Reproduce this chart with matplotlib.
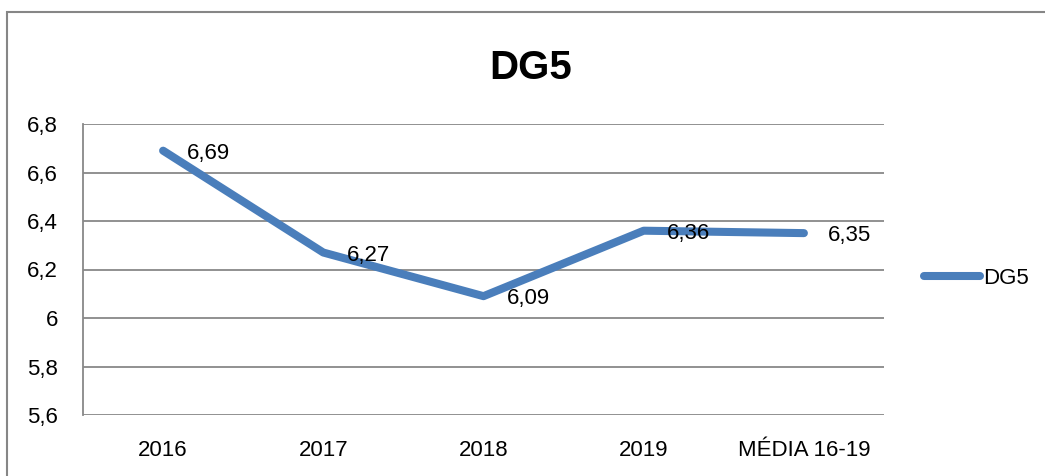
import matplotlib.pyplot as plt
from matplotlib.patches import Rectangle
from matplotlib.ticker import FuncFormatter

categories = ["2016", "2017", "2018", "2019", "MÉDIA 16-19"]
dg5 = [6.69, 6.27, 6.09, 6.36, 6.35]
yticks = [5.6, 5.8, 6.0, 6.2, 6.4, 6.6, 6.8]

plt.rcParams['font.family'] = ['Liberation Sans', 'DejaVu Sans']

fig = plt.figure(figsize=(10.45, 4.76), dpi=100)
ax = fig.add_axes([83 / 1045, 61 / 476, 801 / 1045, 291 / 476])

x = list(range(len(categories)))
ax.plot(x, dg5, color="#4a7ebb", lw=5.8, solid_capstyle="round",
        solid_joinstyle="round", label="DG5", zorder=3)

for xi, v in zip(x, dg5):
    ax.annotate(f"{v:.2f}".replace(".", ","), (xi, v), xytext=(17, -2),
                textcoords="offset points", ha="left", va="center",
                fontsize=16, zorder=4)

ax.set_xlim(-0.5, len(categories) - 0.5)
ax.set_ylim(5.6, 6.8)
ax.set_yticks(yticks)
ax.yaxis.set_major_formatter(FuncFormatter(lambda v, p: f"{v:g}".replace(".", ",")))
ax.set_xticks(x)
ax.set_xticklabels(categories)
ax.tick_params(axis="both", length=0, labelsize=16)
ax.tick_params(axis="y", pad=18)
ax.tick_params(axis="x", pad=18)

ax.grid(axis="y", color="#888888", lw=1.3)
ax.set_axisbelow(True)
for side in ["top", "right", "bottom"]:
    ax.spines[side].set_visible(False)
ax.spines["left"].set_color("#888888")
ax.spines["left"].set_linewidth(1.3)

fig.text(531 / 1045, 1 - 68 / 476, "DG5", ha="center", va="center",
         fontsize=29, fontweight="bold")

ax.legend(loc="center left", bbox_to_anchor=(1.025, 0.47), frameon=False,
          fontsize=16, handlelength=2.5, handletextpad=0.15)

fig.patches.append(Rectangle((6.5 / 1045, -0.1), 1.2, (476 - 11.5) / 476 + 0.1,
                             transform=fig.transFigure, fill=False,
                             edgecolor="#868686", lw=1.5))

fig.savefig("out.png", dpi=100)
